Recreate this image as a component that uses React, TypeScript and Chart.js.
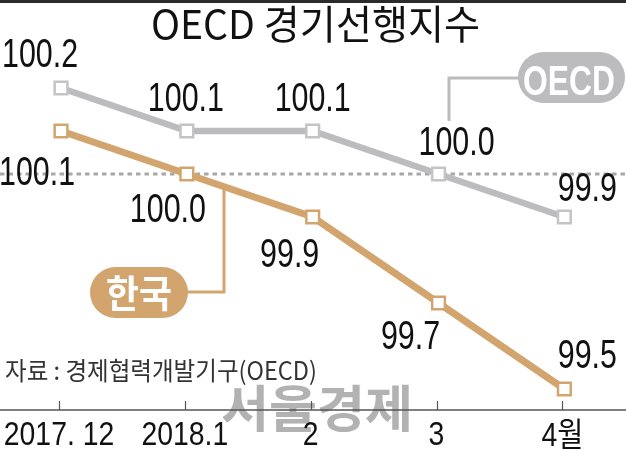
import React, { useEffect, useRef } from 'react';
import { Chart, registerables } from 'chart.js';

Chart.register(...registerables);

const categories = ['2017. 12', '2018.1', '2', '3', '4월'];
const oecdValues = [100.2, 100.1, 100.1, 100.0, 99.9];
const koreaValues = [100.1, 100.0, 99.9, 99.7, 99.5];
const referenceValue = 100.0;
const seriesNames = ['OECD', '한국'];
const titleText = 'OECD 경기선행지수';
const sourceText = '자료 : 경제협력개발기구(OECD)';
const watermarkText = '서울경제';

const GRAY = '#bcbcbe';
const TAN = '#d3a56e';
const NUM_FONT = '"Liberation Sans", Arial, "Noto Sans CJK KR", sans-serif';
const KR_FONT = '"Noto Sans CJK KR", sans-serif';

// label offsets (pixels) from each point
const oecdLabelOffsets = [[-21, -35], [-1, -34], [0, -34], [18, -33], [23, -30]];
const koreaLabelOffsets = [[-24, 40], [-19, 34], [-23, 36], [-28, 32], [23, -35]];

function drawText(
  ctx: CanvasRenderingContext2D,
  text: string,
  cx: number,
  cy: number,
  font: string,
  color: string,
  opts: { width?: number; scale?: number; align?: CanvasTextAlign } = {}
) {
  ctx.save();
  ctx.font = font;
  ctx.fillStyle = color;
  ctx.textBaseline = 'alphabetic';
  const m = ctx.measureText(text);
  let sx = opts.scale ?? 1;
  if (opts.width) sx = opts.width / m.width;
  const asc = m.actualBoundingBoxAscent;
  const desc = m.actualBoundingBoxDescent;
  const baseline = cy + (asc - desc) / 2;
  ctx.translate(cx, baseline);
  ctx.scale(sx, 1);
  ctx.textAlign = opts.align ?? 'center';
  ctx.fillText(text, 0, 0);
  ctx.restore();
}

function roundRect(ctx: CanvasRenderingContext2D, x: number, y: number, w: number, h: number, r: number) {
  ctx.beginPath();
  ctx.moveTo(x + r, y);
  ctx.lineTo(x + w - r, y);
  ctx.arc(x + w - r, y + r, r, -Math.PI / 2, Math.PI / 2);
  ctx.lineTo(x + r, y + h);
  ctx.arc(x + r, y + r, r, Math.PI / 2, (3 * Math.PI) / 2);
  ctx.closePath();
}

const decorPlugin = {
  id: 'decor',
  beforeDatasetsDraw(chart: any) {
    const ctx: CanvasRenderingContext2D = chart.ctx;
    const xs = chart.scales.x;
    const ys = chart.scales.y;
    // top bar
    ctx.save();
    ctx.fillStyle = '#2b2b2b';
    ctx.fillRect(0, 0, chart.width, 3);
    // reference dotted line
    const yr = ys.getPixelForValue(referenceValue);
    ctx.strokeStyle = '#a8a8aa';
    ctx.lineWidth = 3;
    ctx.setLineDash([4.5, 4]);
    ctx.beginPath();
    ctx.moveTo(0, yr);
    ctx.lineTo(chart.width, yr);
    ctx.stroke();
    ctx.setLineDash([]);
    // connectors
    ctx.lineWidth = 3;
    ctx.strokeStyle = GRAY;
    ctx.beginPath();
    ctx.moveTo(449, 121);
    ctx.lineTo(449, 78);
    ctx.lineTo(520, 78);
    ctx.stroke();
    ctx.strokeStyle = TAN;
    ctx.beginPath();
    ctx.moveTo(224, 186);
    ctx.lineTo(224, 292);
    ctx.lineTo(186, 292);
    ctx.stroke();
    ctx.restore();

    // watermark
    drawText(ctx, watermarkText, 317, 408, `bold 50px ${KR_FONT}`, 'rgba(165,165,165,0.85)', { width: 192 });
    // source
    drawText(ctx, sourceText, 161, 371, `25px ${KR_FONT}`, '#333333', { width: 312 });

    // x axis
    const axisY = 410;
    ctx.save();
    ctx.strokeStyle = '#555555';
    ctx.lineWidth = 1.5;
    ctx.beginPath();
    ctx.moveTo(0, axisY);
    ctx.lineTo(chart.width, axisY);
    ctx.stroke();
    ctx.lineWidth = 1.2;
    categories.forEach((c, i) => {
      const x = Math.round(xs.getPixelForValue(i)) - 1.5;
      ctx.beginPath();
      ctx.moveTo(x, axisY - 9);
      ctx.lineTo(x, axisY);
      ctx.stroke();
    });
    ctx.restore();
    categories.forEach((c, i) => {
      const x = xs.getPixelForValue(i) - 2;
      drawText(ctx, c, x, 433, `33px ${NUM_FONT}`, '#111111', { scale: 0.86 });
    });
  },
  afterDatasetsDraw(chart: any) {
    const ctx: CanvasRenderingContext2D = chart.ctx;
    const xs = chart.scales.x;
    const ys = chart.scales.y;
    // title
    drawText(ctx, titleText, 315.5, 24, `400 40px ${KR_FONT}`, '#111111', { width: 329 });

    const series = [
      { values: oecdValues, offsets: oecdLabelOffsets },
      { values: koreaValues, offsets: koreaLabelOffsets },
    ];
    series.forEach((s) => {
      s.values.forEach((v, i) => {
        const px = xs.getPixelForValue(i);
        const py = ys.getPixelForValue(v);
        const [dx, dy] = s.offsets[i];
        drawText(ctx, v.toFixed(1), px + dx, py + dy, `40px ${NUM_FONT}`, '#111111', { scale: 0.76 });
      });
    });

    // legend pills
    ctx.save();
    ctx.fillStyle = GRAY;
    roundRect(ctx, 518, 52, 107, 51, 25.5);
    ctx.fill();
    ctx.fillStyle = TAN;
    roundRect(ctx, 90, 267, 98, 51, 25.5);
    ctx.fill();
    ctx.restore();
    drawText(ctx, seriesNames[0], 569, 80, `bold 42px ${NUM_FONT}`, '#ffffff', { width: 92 });
    drawText(ctx, seriesNames[1], 139, 293, `bold 38px ${KR_FONT}`, '#ffffff', { width: 66 });
  },
};

export default function App() {
  const ref = useRef<HTMLCanvasElement>(null);
  useEffect(() => {
    if (!ref.current) return;
    const chart = new Chart(ref.current, {
      type: 'line',
      data: {
        datasets: [
          {
            label: seriesNames[0],
            data: oecdValues.map((v, i) => ({ x: i, y: v })),
            borderColor: GRAY,
            borderWidth: 6.5,
            pointStyle: 'rect',
            pointRadius: 9,
            pointBorderWidth: 2.5,
            pointBorderColor: '#c4c4c6',
            pointBackgroundColor: '#ffffff',
            tension: 0,
            clip: false,
          } as any,
          {
            label: seriesNames[1],
            data: koreaValues.map((v, i) => ({ x: i, y: v })),
            borderColor: TAN,
            borderWidth: 7,
            pointStyle: 'rect',
            pointRadius: 9,
            pointBorderWidth: 2.5,
            pointBorderColor: TAN,
            pointBackgroundColor: '#ffffff',
            tension: 0,
            clip: false,
          } as any,
        ],
      },
      options: {
        animation: false,
        responsive: false,
        devicePixelRatio: 1,
        layout: { autoPadding: false, padding: { top: 2, bottom: 18, left: 0, right: 0 } },
        plugins: { legend: { display: false }, tooltip: { enabled: false }, title: { display: false } },
        scales: {
          x: { type: 'linear', min: -0.485, max: 4.49, display: false },
          y: { type: 'linear', min: 99.4, max: 100.4, display: false },
        },
        events: [],
      } as any,
      plugins: [decorPlugin],
    });
    return () => chart.destroy();
  }, []);
  return (
    <div style={{ position: 'absolute', left: 0, top: 0, width: 626, height: 450, background: '#ffffff' }}>
      <canvas ref={ref} width={626} height={450} style={{ display: 'block' }} />
    </div>
  );
}
